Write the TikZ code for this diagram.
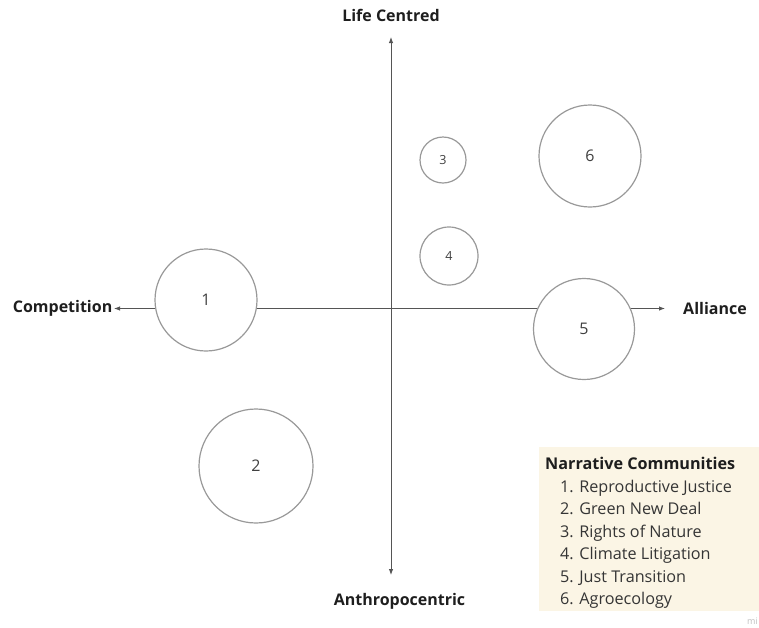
\documentclass[tikz,border=0pt]{standalone}
\usepackage{fontspec}
\setmainfont{Open Sans}
\usetikzlibrary{arrows.meta}
\definecolor{axisgray}{HTML}{555555}
\definecolor{ringgray}{HTML}{999999}
\definecolor{txtdark}{HTML}{1E1E1E}
\definecolor{legendbg}{HTML}{FBF5E5}
\tikzset{
  axis/.style={draw=axisgray, line width=0.9pt, {Latex[length=6pt,width=4.5pt]}-{Latex[length=6pt,width=4.5pt]}},
  axislabel/.style={font=\bfseries\fontsize{16}{18}\selectfont, text=txtdark, inner sep=0pt},
  ring/.style={circle, draw=ringgray, line width=1.2pt, fill=white, inner sep=0pt,
    font=\fontsize{16}{18}\selectfont, text=txtdark!85},
  smallring/.style={ring, font=\fontsize{12.5}{14}\selectfont},
  legendtitle/.style={font=\bfseries\fontsize{16.2}{18}\selectfont, text=txtdark, anchor=base west, inner sep=0pt},
  legenditem/.style={font=\fontsize{16.2}{18}\selectfont, text=txtdark!90, anchor=base west, inner sep=0pt},
}
\begin{document}
\begin{tikzpicture}[x=1pt, y=-1pt]
\useasboundingbox (0,0) rectangle (759,627);

% legend panel
\fill[legendbg] (539,447) rectangle (759,611);

% axes
\coordinate (top) at (391,37);
\coordinate (bot) at (391,575);
\coordinate (lft) at (114,308.5);
\coordinate (rgt) at (665,308.5);
\draw[axis] (bot) -- (top);
\draw[axis] (lft) -- (rgt);

% axis labels
\node[axislabel] (lifec) at (391,15) {Life Centred};
\node[axislabel] (anthro) at (399.5,601) {Anthropocentric};
\node[axislabel, anchor=east] (comp) at (112.5,308) {Competition};
\node[axislabel, anchor=west] (alli) at (683,308) {Alliance};

% narrative communities
\node[ring, minimum size=102pt] (c1) at (206,300) {1};
\node[ring, minimum size=114pt] (c2) at (256,466) {2};
\node[smallring, minimum size=46pt]  (c3) at (443,160) {3};
\node[smallring, minimum size=58pt]  (c4) at (449,256) {4};
\node[ring, minimum size=101pt] (c5) at (584,329) {5};
\node[ring, minimum size=102pt] (c6) at (590,156) {6};

% legend
\node[legendtitle] (lt) at (545,469.5) {Narrative Communities};
\node[legenditem] (l1) at (560,492) {1. Reproductive Justice};
\node[legenditem] (l2) at (560,514.5) {2. Green New Deal};
\node[legenditem] (l3) at (560,537) {3. Rights of Nature};
\node[legenditem] (l4) at (560,559.5) {4. Climate Litigation};
\node[legenditem] (l5) at (560,582) {5. Just Transition};
\node[legenditem] (l6) at (560,604.5) {6. Agroecology};

% watermark
\node[font=\fontsize{9}{10}\selectfont, text=black!25, anchor=west, inner sep=0pt] (wm) at (747,621) {mi};
\end{tikzpicture}
\end{document}
